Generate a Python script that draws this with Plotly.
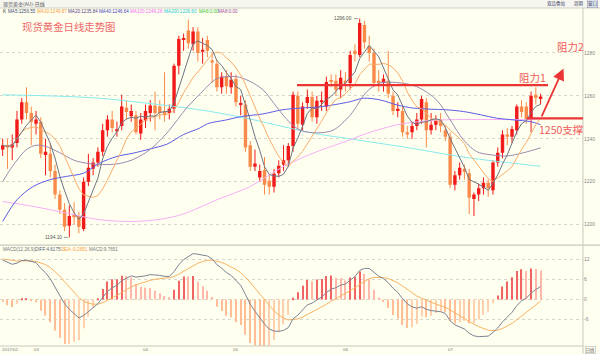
import plotly.graph_objects as go
import pandas as pd
import numpy as np

# ---------------- data ----------------
opens = [1235,1237,1236,1238,1249,1257,1252,1247,1248,1232.5,
         1233,1225,1214,1207,1199.5,1204.5,1204,1198,1220,1226,
         1229,1234,1244,1249,1243.5,1246,1254.5,1250.5,1251,1242.5,
         1248.5,1252,1255.5,1255,1253,1252,1254,1274,1286,1290.5,
         1284,1290,1280.5,1286,1276.5,1275,1264,1269,1264,1268,
         1256,1256,1237,1227,1222,1225.5,1220.5,1217.7,1224,1228,
         1230,1236.7,1260,1246.5,1256.7,1259.5,1250,1257,1255,1267.3,
         1267,1263,1267,1266,1281,1279,1293,1283,1280,1267,
         1266,1267,1260,1253,1253,1243,1243,1246,1249,1257,
         1244,1246.5,1249,1244,1241,1218.6,1223,1226,1224,1212,
         1214,1217,1219.5,1216,1229,1233.5,1242,1241,1244,1255,
         1255,1249,1260.5,1259]
highs = [1240,1240,1242,1253,1259,1264,1255,1253,1250,1240,
         1238,1228,1216,1210,1209,1210.5,1206,1222,1233,1231,
         1236,1247,1251,1253,1248,1260.5,1258,1256,1253,1252,
         1256,1258,1262,1258,1271,1256,1275,1288,1289,1295.5,
         1292,1292,1287,1288,1280,1277,1271,1272,1271,1270,
         1260,1258,1239,1235,1228,1231.5,1223,1226,1230,1237,
         1238,1262,1262,1257,1263,1262,1260,1262,1269,1270,
         1270,1272,1271,1281,1284,1296,1295,1288,1282,1272,
         1270,1281,1262,1257,1255,1246,1248,1252,1260,1259,
         1252,1251,1252,1246,1243,1225,1229,1228,1226,1215,
         1219,1222,1221,1230,1236,1244,1245,1246,1256,1258,
         1257,1262,1264,1261]
lows = [1232,1226,1230,1236,1247,1249,1237,1242,1231,1223,
        1222,1212,1205,1197,1194.1,1200,1196,1197,1218,1223,
        1227,1232,1241,1243,1241,1244,1249,1248,1242,1239.5,
        1245,1248,1244,1249,1248,1249,1252,1270,1281,1282,
        1281,1276,1275,1278,1266,1262,1261,1261,1261,1255,
        1251,1234,1225,1225,1220,1214,1214,1215,1222,1225,
        1227,1234,1244,1244,1254,1248,1247,1253,1253,1264,
        1260,1259,1262,1263,1276,1278,1282,1276,1264,1262,
        1262,1259,1251,1250,1241,1240,1240,1244,1247,1236,
        1242,1244,1243,1239,1217,1216,1221,1221,1205,1204,
        1211,1214,1213,1214,1227,1231,1237,1238,1242,1250,
        1247,1243,1256,1256]
closes = [1237,1236,1237.5,1249,1257,1252,1248,1249,1233,1234,
          1225,1214,1207,1199,1204,1203.5,1199,1220,1226.5,1229,
          1234,1244,1249,1245,1244.5,1255,1252.5,1253,1243,1249,
          1253,1255.5,1252,1252,1251,1254,1274,1286.5,1287,1284.5,
          1290,1280,1281.5,1281,1275.5,1264,1269,1264.5,1267.5,1257,
          1256.5,1236,1227,1228.5,1225,1218.6,1217.7,1223.7,1227.5,1230,
          1236.7,1260.5,1247,1255,1259.5,1250,1257.7,1258,1266.5,1266.5,
          1262.8,1268.4,1266,1279,1279.5,1294,1285,1280,1266,1266,
          1268,1261,1253,1254,1243,1242,1246,1249,1258.6,1244,
          1246.5,1248.5,1246,1241,1218.6,1223,1226.5,1224.5,1212.5,1214,
          1217,1219.5,1217,1229,1233.5,1242,1241,1244.6,1255,1252.5,
          1249,1260,1259,1259.7]

# longer moving averages (candle index, value)
ma20_idx = [0,2,5,7,9,12,15,18,21,24,27,30,32,35,38.5,41.5,45,49,52,54.7,57.5,59.7,62.5,66,69.4,73,76.5,79.3,82.8,87,91.2,94,96.8,99.6,102.4,105.9,109.4,113]
ma20_val = [1220,1227,1235,1237,1236.5,1233.5,1230,1228.5,1228,1228.3,1230,1233.5,1237,1244,1254,1261,1268,1269,1266.7,1262.8,1255,1249,1244,1242.8,1244,1251,1262,1266,1266.2,1264.3,1258,1248.8,1239.5,1234,1232.6,1232,1233.5,1235.8]
ma40_idx = [0,3,6.4,10,13.4,17,20.4,24,27.4,31,34.5,38,41.4,43,47,50.2,54.7,58.7,62.5,67.2,70,73,75.8,79.3,82.8,86.3,89.8,93.3,96.8,100.4,103.8,107.4,110.9,113]
ma40_val = [1201.5,1211.6,1217.8,1221,1222.5,1224,1228.7,1231.8,1233.3,1235.3,1237.5,1242,1245,1247,1248.8,1250.4,1251.6,1253.5,1254.3,1255,1256,1257.3,1258.9,1258.1,1255.8,1254.3,1253.8,1253.5,1252.7,1251.2,1249.6,1248.8,1248,1246.6]
ma100_idx = [0,6.4,13.4,20.4,27.4,33,38,45,52,58.9,66,73,75.8,82.8,89.8,96.8,103.8,110.9,113]
ma100_val = [1210.8,1208.5,1205.4,1202.3,1201.5,1202.5,1205,1211.6,1217.8,1227,1234,1239.5,1242,1246.5,1248.5,1249,1249,1249,1249.3]
ma200_idx = [0,6.4,13.4,20.4,27.4,34.5,41.4,45,52,58.9,66,73,75.8,82.8,89.8,96.8,103.8,113]
ma200_val = [1260.5,1260.2,1259.7,1258.9,1257.3,1255.5,1253.5,1252.2,1249.2,1245.7,1242.3,1240,1239,1236.7,1234.1,1231.5,1229.5,1227.2]

# MACD state before the first visible candle
macd_seed_ema12 = 1233.3
macd_seed_ema26 = 1220.8
macd_seed_dea = 12.3

month_idx = [0, 7, 30, 49, 72, 94]
month_labels = ["2017/02", "03", "04", "05", "06", "07"]
price_ticks = [1200, 1220, 1240, 1260, 1280]
macd_ticks = [-6, 0, 6, 12]

resist1_price = 1265.0
support_price = 1249.5

# ---------------- derived ----------------
N = len(closes)
x = np.arange(N)
o = np.array(opens); h = np.array(highs); l = np.array(lows); c = np.array(closes)
cs = pd.Series(c)
ma5 = cs.rolling(5, min_periods=1).mean()
ma10 = cs.rolling(10, min_periods=1).mean()

e12, e26, dea = macd_seed_ema12, macd_seed_ema26, macd_seed_dea
diff_l, dea_l = [], []
for v in c:
    e12 = e12 + 2/13*(v-e12)
    e26 = e26 + 2/27*(v-e26)
    d = e12 - e26
    dea = dea + 0.2*(d-dea)
    diff_l.append(d); dea_l.append(dea)
diff_a = np.array(diff_l); dea_a = np.array(dea_l)
hist = 2*(diff_a-dea_a)

UP = '#f21a1a'
DN = '#f98a4a'
BG = '#fffff0'

fig = go.Figure()

up = c >= o
for mask, col in ((up, UP), (~up, DN)):
    wx, wy = [], []
    for i in x[mask]:
        wx += [i, i, None]; wy += [l[i], h[i], None]
    fig.add_trace(go.Scatter(x=wx, y=wy, mode='lines', line=dict(color=col, width=1),
                             hoverinfo='skip', xaxis='x', yaxis='y'))
for mask, col in ((up, UP), (~up, DN)):
    base = np.minimum(o, c)[mask]
    ht = np.maximum(np.abs(c-o)[mask], 0.45)
    fig.add_trace(go.Bar(x=x[mask], y=ht, base=base, width=0.72,
                         marker=dict(color=col, line=dict(width=0)), xaxis='x', yaxis='y'))

def line(xx, yy, col, spline=False):
    fig.add_trace(go.Scatter(x=xx, y=yy, mode='lines',
                             line=dict(color=col, width=1, shape='spline' if spline else 'linear',
                                       smoothing=0.9),
                             hoverinfo='skip', xaxis='x', yaxis='y'))

line(ma200_idx, ma200_val, '#86eaec', True)
line(ma100_idx, ma100_val, '#f6aef6', True)
line(ma40_idx, ma40_val, '#5c5ce6', True)
line(ma20_idx, ma20_val, '#9c88ae', True)
line(x, ma10, '#f8ad6a')
line(x, ma5, '#6e7482')

# MACD histogram
hcols = []
for i in range(N):
    prev = hist[i-1] if i > 0 else hist[i]
    if hist[i] >= 0:
        hcols.append('#f26464' if hist[i] >= prev else '#ffb8aa')
    else:
        hcols.append('#ffbe96' if hist[i] <= prev else '#ffcfae')
fig.add_trace(go.Bar(x=x, y=hist, width=0.24, marker=dict(color=hcols, line=dict(width=0)),
                     xaxis='x', yaxis='y2'))
fig.add_trace(go.Scatter(x=x, y=dea_a, mode='lines', line=dict(color='#f8b262', width=1),
                         xaxis='x', yaxis='y2', hoverinfo='skip'))
fig.add_trace(go.Scatter(x=x, y=diff_a, mode='lines', line=dict(color='#7c8292', width=1),
                         xaxis='x', yaxis='y2', hoverinfo='skip'))

# ---------------- layout ----------------
W, H = 600, 354
ML, MR, MT, MB = 0, 17, 8, 7.5
PW, PH = W-ML-MR, H-MT-MB
def px_x(p): return (p-ML)/PW
def px_y(p): return (H-MB-p)/PH
split = px_y(245.5)
bottom_px = H-MB

def idx_of(px): return (px-2.7)/4.76

fig.update_layout(
    width=W, height=H, margin=dict(l=ML, r=MR, t=MT, b=MB),
    paper_bgcolor=BG, plot_bgcolor=BG, showlegend=False, barmode='overlay',
    font=dict(family='Liberation Sans', size=5, color='#777'),
    xaxis=dict(range=[idx_of(0), idx_of(583)], showgrid=False, zeroline=False,
               showticklabels=False, anchor='y2', fixedrange=True),
    yaxis=dict(domain=[split, 1], range=[1200-(245.5-225)/2.15, 1200+(225-8)/2.15],
               side='right', anchor='x', tickvals=price_ticks, ticktext=[str(t) for t in price_ticks],
               showgrid=True, gridcolor='#d6d6cc', griddash='dot', gridwidth=1,
               zeroline=False, tickfont=dict(size=5, color='#888'), ticks=''),
    yaxis2=dict(domain=[0, split], range=[-(bottom_px-300)/3.333, (300-245.5)/3.333],
                side='right', anchor='x', tickvals=macd_ticks, ticktext=[str(t) for t in macd_ticks],
                showgrid=True, gridcolor='#d6d6cc', griddash='dot', gridwidth=1,
                zeroline=False, tickfont=dict(size=5, color='#888'), ticks=''),
)

shapes = []
shapes.append(dict(type='rect', xref='paper', yref='paper', x0=-0.01, x1=px_x(600)+0.01,
                   y0=1, y1=px_y(-2), fillcolor='#f6f6f1', line=dict(width=0), layer='below'))
shapes.append(dict(type='line', xref='paper', yref='paper', x0=0, x1=px_x(600), y0=1, y1=1,
                   line=dict(color='#cfcfc4', width=1)))
shapes.append(dict(type='line', xref='paper', yref='paper', x0=0, x1=px_x(600), y0=split, y1=split,
                   line=dict(color='#c8c8bc', width=1.2)))
shapes.append(dict(type='line', xref='paper', yref='paper', x0=0, x1=1, y0=0, y1=0,
                   line=dict(color='#c8c8bc', width=1)))
shapes.append(dict(type='line', xref='paper', yref='paper', x0=1, x1=1, y0=px_y(354), y1=1,
                   line=dict(color='#c8c8bc', width=1)))
shapes.append(dict(type='line', xref='x', yref='y', x0=idx_of(297), x1=idx_of(548),
                   y0=resist1_price, y1=resist1_price, line=dict(color='#ec3434', width=2.4)))
shapes.append(dict(type='line', xref='x', yref='y', x0=idx_of(527), x1=idx_of(588),
                   y0=support_price, y1=support_price, line=dict(color='#ec3434', width=2.2)))
hi_i = int(np.argmax(h)); lo_i = int(np.argmin(l))
shapes.append(dict(type='line', xref='x', yref='y', x0=hi_i-1.15, x1=hi_i-0.3, y0=h[hi_i], y1=h[hi_i],
                   line=dict(color='#888', width=0.8)))
shapes.append(dict(type='line', xref='x', yref='y', x0=lo_i-1.15, x1=lo_i-0.3, y0=l[lo_i], y1=l[lo_i],
                   line=dict(color='#888', width=0.8)))
fig.update_layout(shapes=shapes)

ann = []
def txt(px, py, s, size=5, color='#777', xanchor='left', family='Liberation Sans', **kw):
    ann.append(dict(xref='paper', yref='paper', x=px_x(px), y=px_y(py), text=s, showarrow=False,
                    xanchor=xanchor, yanchor='middle', font=dict(size=size, color=color, family=family), **kw))

CJK = 'Noto Sans CJK SC'
txt(0.5, 3.8, '现货黄金(AU)-日线', size=5, color='#555', family=CJK)
txt(545, 3.8, '双品叠加', size=4.5, color='#446', family=CJK)
txt(572, 3.8, '周期', size=4.5, color='#446', family=CJK)
txt(587, 3.8, '窗口', size=4.5, color='#446', family=CJK, bordercolor='#99a', borderwidth=0.6, borderpad=0.5, bgcolor='#dde4ee')

legend_items = [(1.2, 'K', '#333'), (6, 'MA5:1256.55', '#445077'), (35, 'MA10:1249.87', '#f59a3c'),
                (66, 'MA20:1235.84', '#5a3f8a'), (97, 'MA40:1246.64', '#3f3fc0'),
                (128, 'MA100:1249.28', '#f070f0'), (162, 'MA200:1226.60', '#22c6d2'),
                (197, 'MA8:0.00', '#3cbf3c'), (216, 'MA8:0.00', '#a04aa0')]
for px, s, col in legend_items:
    txt(px, 12, s, size=4.6, color=col)

macd_items = [(0.5, 'MACD(12,26,9)', '#777'), (33, 'DIFF:4.6175', '#556070'),
              (59, 'DEA:-0.2651', '#f59a3c'), (87, 'MACD:9.7651', '#777')]
for px, s, col in macd_items:
    txt(px, 249.5, s, size=4.6, color=col)

# month labels
lab_y = px_y(350.4)
for i, (mi, lab) in enumerate(zip(month_idx, month_labels)):
    if i == 0:
        ann.append(dict(xref='paper', yref='paper', x=0, y=lab_y, text=lab, showarrow=False,
                        xanchor='left', yanchor='middle', font=dict(size=4.4, color='#777')))
    else:
        ann.append(dict(xref='x', yref='paper', x=mi, y=lab_y, text=lab, showarrow=False,
                        xanchor='center', yanchor='middle', font=dict(size=4.4, color='#777')))
txt(585, 350.3, '日线', size=4.3, color='#555', family=CJK, bordercolor='#aaa', borderwidth=0.5, borderpad=0.2)

# high / low labels
ann.append(dict(xref='x', yref='y', x=hi_i-1.2, y=h[hi_i], text=f'{h[hi_i]:.2f}', showarrow=False,
                xanchor='right', yanchor='middle', font=dict(size=4.8, color='#555')))
ann.append(dict(xref='x', yref='y', x=lo_i-1.2, y=l[lo_i], text=f'{l[lo_i]:.2f}', showarrow=False,
                xanchor='right', yanchor='middle', font=dict(size=4.8, color='#555')))

# chart annotations
txt(20, 27, '现货黄金日线走势图', size=10.4, color='#f06868', family=CJK)
txt(517, 77.5, '阻力1', size=10.5, color='#f05a5a', family=CJK)
txt(555, 46.5, '阻力2', size=10.5, color='#f05a5a', family=CJK)
txt(537, 129.5, '1250支撑', size=10.5, color='#f05a5a', family=CJK)
ann.append(dict(xref='x', yref='y', x=idx_of(563.5), y=1200+(225-68.5)/2.15,
                axref='x', ayref='y', ax=idx_of(541), ay=1200+(225-118)/2.15,
                text='', showarrow=True, arrowhead=2, arrowsize=1.3, arrowwidth=1.8,
                arrowcolor='#ec3434', standoff=0, startstandoff=0))

fig.update_layout(annotations=ann)
fig.write_html('out.html')
